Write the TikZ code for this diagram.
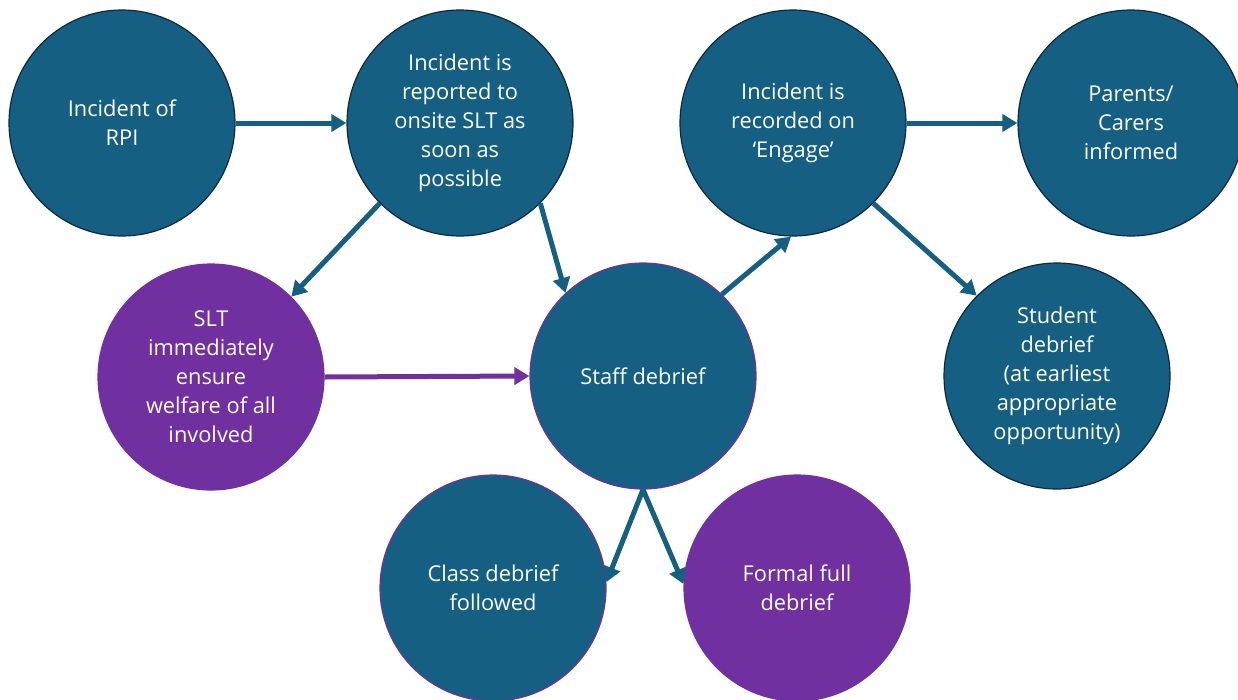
\documentclass[tikz,border=0pt]{standalone}
\usepackage{fontspec}
\setmainfont{Open Sans}
\usetikzlibrary{arrows.meta}
\definecolor{tealc}{HTML}{156082}
\definecolor{purpc}{HTML}{7030A0}
\definecolor{darkc}{HTML}{0E2841}
\tikzset{
  bubble/.style={circle, minimum size=226pt, inner sep=0pt, align=center,
    text=white, font=\fontsize{21.8}{29}\selectfont, line width=1.2pt},
  tealbub/.style={bubble, fill=tealc, draw=darkc},
  tealpb/.style={bubble, fill=tealc, draw=purpc},
  purpbub/.style={bubble, fill=purpc, draw=purpc},
  conn/.style={line width=5pt, draw=tealc, -{Triangle[length=15pt,width=17pt]}},
  pconn/.style={conn, draw=purpc}
}
\begin{document}
\begin{tikzpicture}[x=1pt,y=-1pt]
\useasboundingbox (0,0) rectangle (1238,699);
\node[tealbub] (n1) at (122,123) {Incident of\\RPI};
\node[tealbub] (n2) at (460,123) {Incident is\\reported to\\onsite SLT as\\soon as\\possible};
\node[tealbub] (n3) at (793,123) {Incident is\\recorded on\\‘Engage’};
\node[tealbub] (n4) at (1131,123) {Parents/\\Carers\\informed};
\node[purpbub] (n5) at (211,377) {SLT\\immediately\\ensure\\welfare of all\\involved};
\node[tealpb] (n6) at (643,376) {Staff debrief};
\node[tealbub] (n7) at (1057,376) {Student\\debrief\\(at earliest\\appropriate\\opportunity)};
\node[tealpb] (n8) at (493,588) {Class debrief\\followed};
\node[purpbub] (n9) at (797,588) {Formal full\\debrief};
\draw[conn] (n1.east) -- (n2.west);
\draw[conn] (n3.east) -- (n4.west);
\draw[conn] (n2.-135) -- (n5.45);
\draw[conn] (n2.-45) -- (n6.133);
\draw[pconn] (n5.east) -- (n6.west);
\draw[conn] (n6.46) -- (n3.-91);
\draw[conn] (n3.-45) -- (n7.135);
\draw[conn] (n6.south) -- (n8.3);
\draw[conn] (n6.south) -- (n9.178);
\end{tikzpicture}
\end{document}
